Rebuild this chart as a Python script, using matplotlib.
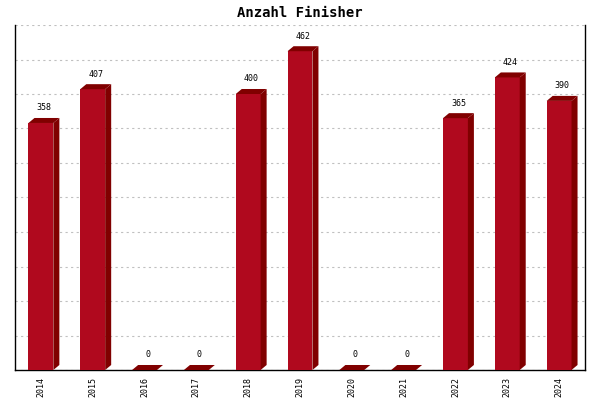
import matplotlib.pyplot as plt
from matplotlib.patches import Polygon

years = ["2014", "2015", "2016", "2017", "2018", "2019", "2020", "2021", "2022", "2023", "2024"]
finisher = [358, 407, 0, 0, 400, 462, 0, 0, 365, 424, 390]

front_col = "#b0091e"
dark_col = "#800000"
mono = "DejaVu Sans Mono"

fig = plt.figure(figsize=(6, 4), dpi=100)
ax = fig.add_axes([0.025, 0.075, 0.95, 0.8625])

w = 0.48
dx = 0.116
dy = 7.25

xs = list(range(len(years)))
ax.bar(xs, finisher, width=w, color=front_col, zorder=3, linewidth=0)

for x, v in zip(xs, finisher):
    l = x - w / 2
    r = x + w / 2
    # top face
    top = Polygon([(l, v), (r, v), (r + dx, v + dy), (l + dx, v + dy)],
                  closed=True, facecolor=dark_col, edgecolor="none", zorder=4)
    ax.add_patch(top)
    # side face
    if v > 0:
        side = Polygon([(r, 0), (r + dx, dy), (r + dx, v + dy), (r, v)],
                       closed=True, facecolor=dark_col, edgecolor="none", zorder=4)
        ax.add_patch(side)
    ax.annotate(str(v), (x + dx / 2, v + dy), xytext=(0, 4), textcoords="offset points",
                ha="center", va="bottom", fontsize=6, family=mono)

ax.set_xlim(-0.5, len(years) - 0.5)
ax.set_ylim(0, 500)
ax.set_yticks(range(0, 501, 50))
ax.set_yticklabels([])
ax.set_xticks(xs)
ax.set_xticklabels(years, rotation=90, fontsize=6, family=mono)
ax.tick_params(axis="both", length=0)
ax.tick_params(axis="x", pad=5)

ax.grid(axis="y", color="#c0c0c0", linestyle=(0, (2, 3)), linewidth=0.8, zorder=0)
ax.spines["top"].set_visible(False)
for s in ["left", "right", "bottom"]:
    ax.spines[s].set_color("black")
    ax.spines[s].set_linewidth(1.0)

fig.text(0.5, 0.967, "Anzahl Finisher", ha="center", va="center",
         fontsize=10, fontweight="bold", family=mono)

fig.savefig("out.png", dpi=100)
